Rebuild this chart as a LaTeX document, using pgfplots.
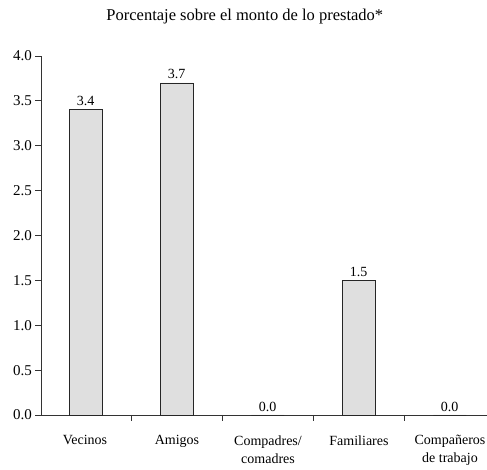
\documentclass[border=0pt]{standalone}
\usepackage{pgfplots}
\pgfplotsset{compat=1.18}
\usepackage{fontspec}
\setmainfont{Liberation Serif}
\begin{document}
\begin{tikzpicture}
\begin{axis}[
  at={(0,0)}, anchor=south west,
  scale only axis, width=446pt, height=359pt,
  xmin=-0.49, xmax=4.41, ymin=0, ymax=4.0,
  axis x line*=bottom, axis y line*=left,
  axis line style={black!80, line width=0.8pt},
  ytick={0,0.5,...,4.0},
  yticklabel style={font=\fontsize{15}{17}\selectfont, /pgf/number format/.cd, fixed, fixed zerofill, precision=1},
  /pgf/number format/assume math mode=true,
  xtick=\empty,
  tick align=outside, major tick length=5.5pt,
  tick style={black!80, line width=0.8pt},
  font=\fontsize{14}{16}\selectfont,
  nodes near coords,
  every node near coord/.append style={/pgf/number format/.cd, fixed, fixed zerofill, precision=1, /pgf/number format/assume math mode=true},
  title={Porcentaje sobre el monto de lo prestado*},
  title style={at={(0.457,1)}, anchor=south, yshift=22pt, font=\fontsize{16.5}{19}\selectfont},
  clip=false,
]
\addplot[ybar, bar width=0.36, fill=gray!25, draw=black!85, line width=0.8pt] coordinates {(0,3.4) (1,3.7) (2,0.0) (3,1.5) (4,0.0)};
\draw[black!80, line width=0.8pt] (axis cs:0.5,0) -- ++(0pt,-6pt);
\draw[black!80, line width=0.8pt] (axis cs:1.5,0) -- ++(0pt,-6pt);
\draw[black!80, line width=0.8pt] (axis cs:2.5,0) -- ++(0pt,-6pt);
\draw[black!80, line width=0.8pt] (axis cs:3.5,0) -- ++(0pt,-6pt);
\end{axis}
\node[align=center, anchor=north, font=\fontsize{14}{18}\selectfont] at (44pt,-17pt) {Vecinos};
\node[align=center, anchor=north, font=\fontsize{14}{18}\selectfont] at (136pt,-17pt) {Amigos};
\node[align=center, anchor=north, font=\fontsize{14}{18}\selectfont] at (227pt,-17pt) {Compadres/\\comadres};
\node[align=center, anchor=north, font=\fontsize{14}{18}\selectfont] at (318pt,-17pt) {Familiares};
\node[align=center, anchor=north, font=\fontsize{14}{18}\selectfont] at (409pt,-17pt) {Compañeros\\de trabajo};
\pgfresetboundingbox
\useasboundingbox (-41pt,-55pt) rectangle (446pt,415pt);
\end{tikzpicture}
\end{document}
